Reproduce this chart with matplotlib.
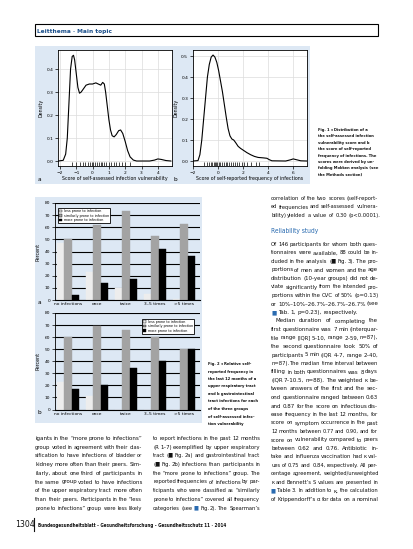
import matplotlib
matplotlib.use("Agg")
import matplotlib.pyplot as plt
from matplotlib.patches import Rectangle
from matplotlib.lines import Line2D

W, H = 413, 549

# ---- Fig. 1 data ----
dens_a_x = [-2.1, -1.8, -1.65, -1.55, -1.45, -1.35, -1.25, -1.17, -1.1, -1.0, -0.9, -0.8,
            -0.7, -0.55, -0.4, -0.2, 0.0, 0.2, 0.35, 0.5, 0.62, 0.72, 0.8, 0.9, 1.0, 1.1,
            1.2, 1.32, 1.45, 1.6, 1.72, 1.85, 2.0, 2.15, 2.3, 2.5, 2.7, 3.5, 3.8, 4.0, 4.2,
            4.5, 4.8]
dens_a_y = [0.0, 0.003, 0.03, 0.10, 0.25, 0.40, 0.455, 0.46, 0.44, 0.38, 0.32, 0.295,
            0.30, 0.315, 0.33, 0.335, 0.335, 0.34, 0.335, 0.33, 0.342, 0.335, 0.30, 0.24,
            0.18, 0.135, 0.11, 0.105, 0.115, 0.132, 0.135, 0.12, 0.085, 0.045, 0.018,
            0.004, 0.0, 0.0, 0.004, 0.009, 0.007, 0.002, 0.0]
rug_a = [-1.25, -1.0, -0.8, -0.6, -0.45, -0.3, -0.15, -0.05, 0.05, 0.15, 0.3, 0.4, 0.5,
         0.6, 0.7, 0.85, 1.0, 1.15, 1.3, 1.45, 1.6, 1.8, 2.0, 2.3]

dens_b_x = [-2.0, -1.6, -1.45, -1.3, -1.15, -1.0, -0.85, -0.7, -0.55, -0.4, -0.25, -0.1,
            0.05, 0.2, 0.35, 0.5, 0.65, 0.8, 0.95, 1.1, 1.25, 1.4, 1.6, 1.8, 2.0, 2.3, 2.6,
            2.9, 3.2, 3.6, 3.9, 4.1, 4.3, 5.4, 5.8, 6.0, 6.2, 6.6, 7.1]
dens_b_y = [0.0, 0.002, 0.03, 0.10, 0.20, 0.30, 0.40, 0.46, 0.495, 0.505, 0.495, 0.47,
            0.43, 0.38, 0.33, 0.27, 0.21, 0.155, 0.12, 0.105, 0.10, 0.088, 0.07, 0.06,
            0.052, 0.04, 0.03, 0.022, 0.017, 0.015, 0.013, 0.006, 0.001, 0.0, 0.006,
            0.01, 0.007, 0.001, 0.0]
rug_b = [-1.1, -0.85, -0.7, -0.55, -0.45, -0.35, -0.25, -0.15, -0.05, 0.05, 0.15, 0.3,
         0.45, 0.6, 0.75, 0.9, 1.05, 1.2, 1.35, 1.5, 1.7, 1.9, 2.1, 2.35, 2.6, 3.0, 3.3]

# ---- Fig. 2 data (percent) ----
categories = ["no infections", "once", "twice", "3–5 times", ">5 times"]
groups = ["less prone to infection", "similarly prone to infection", "more prone to infection"]
resp_less = [47, 23, 10, 5, 1]
resp_similar = [50, 62, 73, 53, 63]
resp_more = [4, 14, 17, 42, 36]
gi_less = [23, 11, 0, 0, 0]
gi_similar = [60, 69, 66, 60, 50]
gi_more = [17, 20, 34, 40, 50]
bar_colors = ["#ededed", "#a3a3a3", "#000000"]

BLUE_BG = "#dde8f4"
DARK_BLUE = "#1b4f8a"
BODY = dict(fontsize=4.45, family="DejaVu Sans", fontstretch="condensed", color="#111111")

fig = plt.figure(figsize=(W / 100, H / 100), dpi=100)
renderer = fig.canvas.get_renderer()


def fy(y):
    return 1 - y / H


def add_ax(l, t, r, b):
    return fig.add_axes([l / W, 1 - b / H, (r - l) / W, (b - t) / H])


def txt(x, y, s, **kw):
    return fig.text(x / W, fy(y), s, **kw)


def box(l, t, r, b, **kw):
    fig.patches.append(Rectangle((l / W, fy(b)), (r - l) / W, (b - t) / H,
                                 transform=fig.transFigure, **kw))


def width_of(s, style):
    t = txt(0, 0, s, **style)
    w = t.get_window_extent(renderer).width
    t.remove()
    return w


SPACE = width_of("a a", BODY) - width_of("aa", BODY)


def justify(x0, x1, y, line, last=False, style=BODY):
    words = line.split(" ")
    widths = [width_of(w, style) for w in words]
    total = sum(widths)
    size = style["fontsize"]
    room = x1 - x0 - (len(words) - 1) * 0.8 * SPACE
    if total > room:
        # squeeze a too-long line a little
        size = size * room / total
        widths = [w * room / total for w in widths]
        total = room
    if last or len(words) < 2:
        gap = SPACE
    else:
        gap = (x1 - x0 - total) / (len(words) - 1)
    x = x0
    for w, wd in zip(words, widths):
        kw = dict(style, fontsize=size)
        if w.startswith("■"):
            kw["color"] = "#2a6bb0"
        txt(x, y, w, va="baseline", **kw)
        x += wd + gap


def column(x0, x1, y0, step, lines, last_idx=()):
    for i, ln in enumerate(lines):
        indent = 4 if ln.startswith("  ") else 0
        justify(x0 + indent, x1, y0 + i * step, ln.strip(), last=i in last_idx)


# ---- page header ----
box(35, 24, 378, 36, fill=False, ec="black", lw=0.8)
txt(37, 32.5, "Leitthema · Main topic", fontsize=4.2, weight="bold", color=DARK_BLUE)

# ---- Fig. 1 ----
box(35, 46, 310, 184, fc=BLUE_BG, ec="none", zorder=-5)

tick_kw = dict(labelsize=3.2, length=2, width=0.5, pad=1.5)
for dx, dy, rug, xlim, xlabel, left, right, xt, yt, ymax, lab in [
        (dens_a_x, dens_a_y, rug_a, (-2.12, 4.87),
         "Score of self-assessed infection vulnerability", 58, 172,
         range(-2, 5), [0, 0.1, 0.2, 0.3, 0.4], 0.483, "a"),
        (dens_b_x, dens_b_y, rug_b, (-2.0, 7.1),
         "Score of self-reported frequency of infections", 193, 307,
         range(-2, 8, 2), [0, 0.1, 0.2, 0.3, 0.4, 0.5], 0.529, "b")]:
    ax = add_ax(left, 50, right, 166)
    ax.set_facecolor("white")
    ax.plot(dx, dy, color="black", lw=0.8)
    ax.vlines(rug, 0, 0.035, transform=ax.get_xaxis_transform(), color="black", lw=0.5)
    ax.set_xlim(*xlim)
    ax.set_ylim(-0.045 * ymax, ymax)
    ax.set_xticks(list(xt))
    ax.set_yticks(yt)
    ax.set_yticklabels([f"{v:.1f}" for v in yt])
    ax.grid(color="#dcdcdc", lw=0.5)
    ax.set_axisbelow(True)
    ax.tick_params(**tick_kw)
    for s in ax.spines.values():
        s.set_linewidth(0.6)
    ax.set_ylabel("Density", fontsize=3.4, labelpad=2)
    ax.set_xlabel(xlabel, fontsize=3.4, labelpad=1)
    txt(left - 20, 181, lab, fontsize=4.2)

cap1 = ["Fig. 1 ◂ Distribution of a", "the self-assessed infection",
        "vulnerability score and b", "the score of self-reported",
        "frequency of infections. The", "scores were derived by un-",
        "folding Mokken analysis (see", "the Methods section)"]
for i, ln in enumerate(cap1):
    txt(318, 131 + i * 6.4, ln, fontsize=3.0, weight="bold", family="DejaVu Sans",
        fontstretch="condensed", color="#111111", va="baseline")

# ---- Fig. 2 ----
box(35, 197, 202, 423, fc=BLUE_BG, ec="none", zorder=-5)
xs = list(range(len(categories)))
bw = 0.25
for (t, b), series, lab, loc, anchor in [
        ((203, 300), (resp_less, resp_similar, resp_more), "a", "upper left", (0.01, 0.965)),
        ((313, 409.5), (gi_less, gi_similar, gi_more), "b", "upper right", (0.97, 0.96))]:
    ax = add_ax(55, t, 200, b)
    ax.patch.set_alpha(0)
    for k, (vals, col, name) in enumerate(zip(series, bar_colors, groups)):
        ax.bar([x + (k - 1) * bw for x in xs], vals, bw, color=col, label=name,
               edgecolor=col, lw=0.3, zorder=2)
    ax.set_xlim(-0.45, 4.55)
    ax.set_ylim(0, 80)
    ax.set_yticks(range(0, 81, 10))
    ax.yaxis.grid(True, color="black", lw=0.8)
    ax.set_axisbelow(True)
    ax.set_xticks(xs)
    ax.set_xticklabels(categories, fontsize=3.2)
    ax.tick_params(axis="x", length=0, pad=1.5)
    ax.tick_params(axis="y", labelsize=3.2, length=2, width=0.5, pad=1.5)
    for s in ("top", "right"):
        ax.spines[s].set_visible(False)
    ax.spines["left"].set_linewidth(0.6)
    ax.spines["bottom"].set_linewidth(0.8)
    ax.set_ylabel("Percent", fontsize=3.4, labelpad=3)
    leg = ax.legend(loc=loc, bbox_to_anchor=anchor, fontsize=2.45, frameon=True,
                    fancybox=False, edgecolor="black", framealpha=1, handlelength=0.9,
                    handleheight=0.7, handletextpad=0.4, borderpad=0.35, labelspacing=0.15)
    leg.get_frame().set_linewidth(0.6)
    for h in leg.legend_handles:
        h.set_edgecolor("black")
        h.set_linewidth(0.3)
    txt(38, b + 4, lab, fontsize=4.2)

cap2 = ["Fig. 2 ◂ Relative self-", "reported frequency in", "the last 12 months of a",
        "upper respiratory tract", "and b gastrointestinal", "tract infections for each",
        "of the three groups", "of self-assessed infec-", "tion vulnerability"]
for i, ln in enumerate(cap2):
    txt(208, 365 + i * 7.5, ln, fontsize=3.0, weight="bold", family="DejaVu Sans",
        fontstretch="condensed", color="#111111", va="baseline")

# ---- body text ----
left_col = ["igants in the “more prone to infections”",
            "group voted in agreement with their clas-",
            "sification to have infections of bladder or",
            "kidney more often than their peers. Sim-",
            "ilarly, about one third of participants in",
            "the same group voted to have infections",
            "of the upper respiratory tract more often",
            "than their peers. Participants in the “less",
            "prone to infections” group were less likely"]
mid_col = ["to report infections in the past 12 months",
           "(R 1–7) exemplified by upper respiratory",
           "tract (■ Fig. 2a) and gastrointestinal tract",
           "(■ Fig. 2b) infections than participants in",
           "the “more prone to infections” group. The",
           "reported frequencies of infections by par-",
           "ticipants who were classified as “similarly",
           "prone to infections” covered all frequency",
           "categories (see ■ Fig. 2). The Spearman’s"]
right_top = ["correlation of the two scores (self-report-",
             "ed frequencies and self-assessed vulnera-",
             "bility) yielded a value of 0.30 (p<0.0001)."]
right_col = ["Of 146 participants for whom both ques-",
             "tionnaires were available, 88 could be in-",
             "cluded in the analysis (■ Fig. 3). The pro-",
             "portions of men and women and the age",
             "distribution (10-year groups) did not de-",
             "viate significantly from the intended pro-",
             "portions within the CVC of 50% (p=0.13)",
             "or 10%–10%–26.7%–26.7%–26.7% (see",
             "■ Tab. 1, p=0.23), respectively.",
             "  Median duration of completing the",
             "first questionnaire was 7 min (interquar-",
             "tile range [IQR] 5–10, range 2–59, n=87),",
             "the second questionnaire took 50% of",
             "participants 5 min (IQR 4–7, range 2–40,",
             "n=87). The median time interval between",
             "filling in both questionnaires was 8 days",
             "(IQR 7–10.5, n=88). The weighted κ be-",
             "tween answers of the first and the sec-",
             "ond questionnaire ranged between 0.63",
             "and 0.87 for the score on infectious dis-",
             "ease frequency in the last 12 months, for",
             "score on symptom occurrence in the past",
             "12 months between 0.77 and 0.90, and for",
             "score on vulnerability compared to peers",
             "between 0.62 and 0.76. Antibiotic in-",
             "take and influenza vaccination had κ val-",
             "ues of 0.75 and 0.84, respectively. All per-",
             "centage agreement, weighted/unweighted",
             "κ and Bennett’s S values are presented in",
             "■ Table 3. In addition to κ, the calculation",
             "of Krippendorff’s α for data on a nominal"]

column(35, 142, 440, 8.7, left_col)
column(153, 260, 440, 8.7, mid_col)
column(271, 378, 200, 8.5, right_top, last_idx=(2,))
txt(271, 233, "Reliability study", fontsize=4.8, family="DejaVu Sans",
    fontstretch="condensed", color="#2a6bb0", va="baseline")
column(271, 378, 246, 8.5, right_col, last_idx=(8,))

# ---- footer ----
txt(15, 527, "1304", fontsize=5.6, color="#111111", va="baseline")
fig.lines.append(Line2D([34 / W, 34 / W], [fy(531), fy(518)], transform=fig.transFigure,
                        color="#111111", lw=0.8))
txt(38, 526.5, "Bundesgesundheitsblatt - Gesundheitsforschung - Gesundheitsschutz 11 · 2014",
    fontsize=3.3, weight="bold", family="DejaVu Sans", fontstretch="condensed",
    color="#111111", va="baseline")

fig.savefig("out.png", dpi=100)
